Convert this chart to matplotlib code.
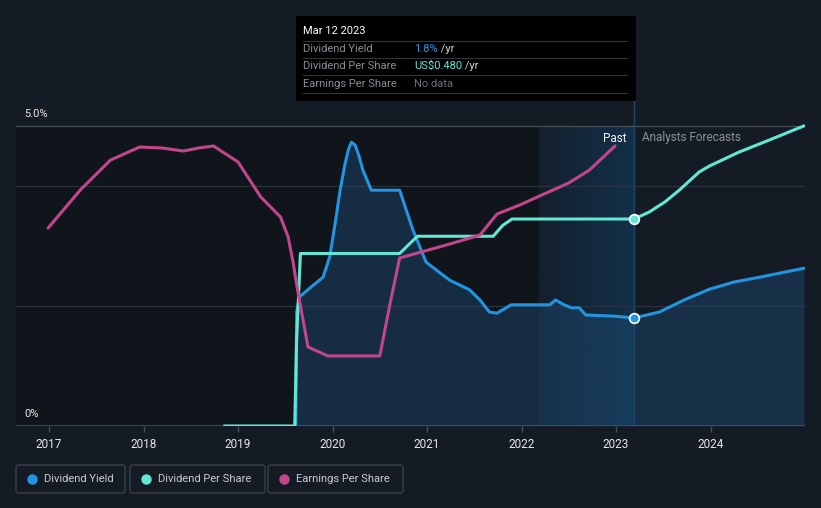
import numpy as np
import matplotlib.pyplot as plt
from matplotlib.patches import FancyBboxPatch, Rectangle
from matplotlib.colors import LinearSegmentedColormap

plt.rcParams['font.family'] = ['Roboto', 'DejaVu Sans']

# dividend yield (%), past and analyst forecast
dy_years = [2019.61, 2019.62, 2019.65, 2019.76, 2019.90, 2019.97, 2020.03, 2020.08,
            2020.13, 2020.17, 2020.20, 2020.24, 2020.28, 2020.32, 2020.41, 2020.71,
            2020.85, 2020.99, 2021.24, 2021.45, 2021.56, 2021.66, 2021.74, 2021.89,
            2022.30, 2022.36, 2022.45, 2022.53, 2022.61, 2022.68, 2022.99, 2023.19]
dy_vals = [0.0, 1.9, 2.15, 2.30, 2.48, 2.82, 3.40, 3.93,
           4.35, 4.62, 4.73, 4.68, 4.50, 4.27, 3.93, 3.93,
           3.27, 2.73, 2.43, 2.27, 2.10, 1.90, 1.88, 2.02,
           2.02, 2.10, 2.02, 1.97, 1.97, 1.85, 1.83, 1.80]
dy_fc_years = [2023.19, 2023.46, 2023.72, 2023.99, 2024.25, 2024.52, 2024.99]
dy_fc_vals = [1.80, 1.90, 2.10, 2.28, 2.40, 2.48, 2.63]

# dividend per share (US$)
dps_years = [2018.86, 2019.60, 2019.62, 2019.66, 2020.71, 2020.78, 2020.86, 2020.90,
             2021.70, 2021.80, 2021.90, 2023.19]
dps_vals = [0.0, 0.0, 0.20, 0.40, 0.40, 0.415, 0.432, 0.44,
            0.44, 0.465, 0.48, 0.48]
dps_fc_years = [2023.19, 2023.35, 2023.52, 2023.67, 2023.88, 2023.99, 2024.30, 2024.62, 2024.99]
dps_fc_vals = [0.48, 0.496, 0.52, 0.547, 0.589, 0.603, 0.635, 0.663, 0.696]

# earnings per share (US$)
eps_years = [2016.99, 2017.33, 2017.65, 2017.96, 2018.20, 2018.42, 2018.58, 2018.74,
             2019.00, 2019.24, 2019.45, 2019.53, 2019.58, 2019.63, 2019.74, 2019.95,
             2020.50, 2020.61, 2020.71, 2021.24, 2021.56, 2021.74, 2021.98, 2022.19,
             2022.50, 2022.72, 2022.99]
eps_vals = [1.32, 1.573, 1.773, 1.86, 1.853, 1.833, 1.853, 1.867,
            1.76, 1.527, 1.393, 1.26, 1.10, 0.907, 0.527, 0.467,
            0.467, 0.82, 1.12, 1.213, 1.273, 1.413, 1.473, 1.533,
            1.62, 1.707, 1.867]

year_ticks = [2017, 2018, 2019, 2020, 2021, 2022, 2023, 2024]
now = 2023.19
past_start = 2022.19

BG = '#151b25'
BLUE = '#2394df'
TEAL = '#63e6d3'
PINK = '#c2468c'

W, H = 821, 508
fig = plt.figure(figsize=(W / 100, H / 100), dpi=100, facecolor=BG)

# axes spans px x 16..805, y 101..426
ax = fig.add_axes([16 / W, (H - 426) / H, (805 - 16) / W, (426 - 101) / H])
ax.set_facecolor('none')
xmin, xmax = 2016.65, 2025.0
top_pct = 5.0 * 325 / 300
ax.set_xlim(xmin, xmax)
ax.set_ylim(0, top_pct)

# darker past band and highlighted "Past" band
ax.fill_between([xmin, past_start], 0, 5.0, color='#10151b', zorder=0, lw=0)
grad = np.linspace(0, 1, 256).reshape(1, -1)
cmap = LinearSegmentedColormap.from_list('past', ['#13202d', '#13304a'])
ax.imshow(grad, extent=[past_start, now, 0, 5.0], aspect='auto', cmap=cmap, zorder=0)

for g in [2.0, 4.0]:
    ax.axhline(g, color='#2c323b', lw=0.9, zorder=1)
ax.axhline(5.0, color='#4a4f57', lw=0.9, zorder=1)
ax.axvline(now, color='#1e4866', lw=1.0, zorder=1)

for s in ax.spines.values():
    s.set_visible(False)
ax.axhline(0, color='#4a4f57', lw=1.2, zorder=5)
ax.set_xticks(year_ticks)
ax.set_xticklabels([str(y) for y in year_ticks])
ax.tick_params(axis='x', colors='#4a4f57', length=4, width=1, labelcolor='#e6e6e6',
               labelsize=8.5, pad=5)
ax.set_yticks([])

# yield line and fill
fill_x = dy_years + dy_fc_years[1:]
fill_y = dy_vals + dy_fc_vals[1:]
ax.fill_between(fill_x, 0, fill_y, color='#1d4a72', alpha=0.45, lw=0, zorder=2)
ax.plot(dy_years, dy_vals, color=BLUE, lw=2.2, zorder=4, solid_capstyle='round')
ax.plot(dy_fc_years, dy_fc_vals, color=BLUE, lw=2.2, zorder=4, solid_capstyle='round')
ax.plot([now], [dy_vals[-1]], 'o', ms=7, mfc=BLUE, mec='white', mew=1.2, zorder=8)

# dps twin
ax2 = ax.twinx()
ax2.set_ylim(0, 0.48 / 207 * 325)
ax2.axis('off')
ax2.plot(dps_years, dps_vals, color=TEAL, lw=2.2, zorder=4)
ax2.plot(dps_fc_years, dps_fc_vals, color=TEAL, lw=2.2, zorder=4, solid_capstyle='round')
ax2.plot([now], [dps_vals[-1]], 'o', ms=7, mfc=TEAL, mec='white', mew=1.2, zorder=8)

# eps twin
ax3 = ax.twinx()
ax3.set_ylim(0, 2.0 * 325 / 300)
ax3.axis('off')
ax3.plot(eps_years, eps_vals, color=PINK, lw=2.2, zorder=3, solid_capstyle='round')

# y labels
fig.text(24 / W, 1 - 114 / H, '5.0%', color='#e6e6e6', fontsize=8, va='center', ha='left')
fig.text(24 / W, 1 - 414 / H, '0%', color='#e6e6e6', fontsize=8, va='center', ha='left')
fig.text(626 / W, 1 - 138 / H, 'Past', color='#f0f0f0', fontsize=8.5, va='center', ha='right')
fig.text(642 / W, 1 - 138 / H, 'Analysts Forecasts', color='#8c9098', fontsize=8.5,
         va='center', ha='left')

# tooltip
fig.patches.append(Rectangle((296 / W, 1 - 101 / H), 340 / W, 85 / H, transform=fig.transFigure,
                             facecolor='black', edgecolor='none', zorder=10))
fig.text(303 / W, 1 - 31 / H, 'Mar 12 2023', color='white', fontsize=8, va='center', zorder=11)
for yy in [41, 58, 75, 93]:
    fig.add_artist(plt.Line2D([303 / W, 627 / W], [1 - yy / H, 1 - yy / H], color='#333539',
                              lw=0.8, zorder=11))
rows = [('Dividend Yield', 49, '1.8%', BLUE, ' /yr'),
        ('Dividend Per Share', 66, 'US$0.480', TEAL, ' /yr'),
        ('Earnings Per Share', 84, 'No data', '#6d7078', '')]
for name, yy, val, col, suf in rows:
    fig.text(303 / W, 1 - yy / H, name, color='#8a8e96', fontsize=8, va='center', zorder=11)
    t = fig.text(414 / W, 1 - yy / H, val, color=col, fontsize=8, va='center', zorder=11)
    if suf:
        fig.canvas.draw()
        bb = t.get_window_extent()
        fig.text(bb.x1 / W, 1 - yy / H, suf, color='#d0d0d0', fontsize=8, va='center', zorder=11)

# legend boxes
legend = [('Dividend Yield', BLUE, 16, 125), ('Dividend Per Share', TEAL, 130, 265),
          ('Earnings Per Share', PINK, 268, 403)]
for name, col, x0, x1 in legend:
    fig.patches.append(FancyBboxPatch((x0 / W, 1 - 493 / H), (x1 - x0) / W, 28 / H,
                                      boxstyle='round,pad=0,rounding_size=0.004',
                                      transform=fig.transFigure, facecolor='none',
                                      edgecolor='#3a3f47', lw=1))
    fig.add_artist(plt.Line2D([(x0 + 16) / W], [1 - 479 / H], marker='o', ms=6.5,
                              color=col, lw=0))
    fig.text((x0 + 28) / W, 1 - 479 / H, name, color='#c8cacd', fontsize=8, va='center')

fig.savefig('out.png', dpi=100, facecolor=BG)
